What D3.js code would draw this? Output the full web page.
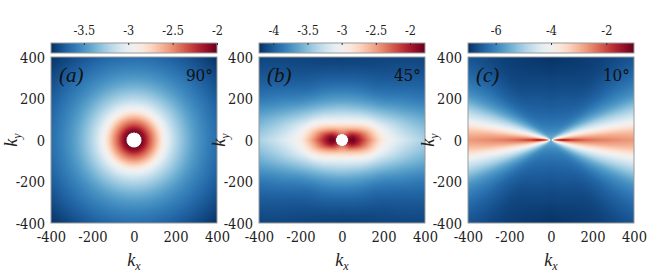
<!DOCTYPE html>
<html><head><meta charset="utf-8">
<script src="https://cdn.jsdelivr.net/npm/d3@7"></script>
<style>
body{margin:0;background:#fff;} svg{display:block}
text{font-family:"Liberation Serif",serif;}
text.num{font-family:"DejaVu Serif Condensed","DejaVu Serif",serif;font-stretch:condensed;}
</style>
</head><body>
<svg id="chart" width="650" height="275"></svg>
<script>
// ---- data ----
const axisTicks = [-400, -200, 0, 200, 400];
const panelLabels = ["(a)", "(b)", "(c)"];
const angleLabels = ["90°", "45°", "10°"];
const colorDomains = [[-3.87, -2.0], [-4.21, -1.78], [-7.0, -1.0]];
const colorTicks = [[-3.5, -3, -2.5, -2], [-4, -3.5, -3, -2.5, -2], [-6, -4, -2]];
const holeRadius = [35, 28, 0];

// log10 values sampled on polar grid (angle from k_x axis, degrees; radius |k|)
const anglesA = [0, 90];
const radiiA = [30, 50, 75, 100, 150, 200, 300, 400, 570];
const valuesA = [
  [-2.0, -2.12, -2.35, -2.55, -2.95, -3.2, -3.48, -3.65, -3.87],
  [-2.0, -2.12, -2.35, -2.55, -2.95, -3.2, -3.48, -3.65, -3.87]
];

const anglesB = [0, 15, 30, 45, 60, 75, 90];
const radiiB = [25, 50, 75, 100, 150, 200, 300, 400, 570];
const valuesB = [
  [-1.85, -1.8, -1.95, -2.15, -2.55, -2.9, -3.2, -3.38, -3.6],
  [-1.9, -1.88, -2.05, -2.28, -2.7, -3.05, -3.4, -3.6, -3.85],
  [-2.0, -2.05, -2.3, -2.55, -2.95, -3.3, -3.65, -3.85, -4.05],
  [-2.1, -2.25, -2.55, -2.8, -3.2, -3.5, -3.85, -4.0, -4.12],
  [-2.2, -2.42, -2.72, -2.98, -3.35, -3.62, -3.95, -4.08, -4.16],
  [-2.27, -2.52, -2.82, -3.07, -3.43, -3.68, -3.98, -4.12, -4.18],
  [-2.3, -2.55, -2.85, -3.1, -3.45, -3.7, -4.0, -4.14, -4.2]
];

const anglesC = [0, 5, 10, 15, 20, 30, 45, 60, 90];
const radiiC = [15, 30, 50, 100, 200, 300, 400, 570];
const valuesC = [
  [-1.3, -1.1, -1.15, -1.8, -2.35, -2.55, -2.7, -2.85],
  [-2.5, -2.3, -2.3, -2.6, -2.85, -2.95, -3.05, -3.2],
  [-3.1, -3.1, -3.2, -3.3, -3.5, -3.6, -3.7, -3.8],
  [-3.6, -3.7, -3.8, -3.95, -4.15, -4.3, -4.4, -4.5],
  [-4.0, -4.1, -4.3, -4.5, -4.7, -4.85, -4.95, -5.1],
  [-4.7, -4.9, -5.1, -5.35, -5.6, -5.75, -5.85, -6.0],
  [-5.3, -5.5, -5.7, -6.0, -6.3, -6.45, -6.5, -6.6],
  [-5.5, -5.7, -5.9, -6.2, -6.5, -6.7, -6.8, -6.85],
  [-5.6, -5.8, -6.0, -6.3, -6.6, -6.8, -6.95, -7.0]
];

const fields = [
  {angles: anglesA, radii: radiiA, values: valuesA},
  {angles: anglesB, radii: radiiB, values: valuesB},
  {angles: anglesC, radii: radiiC, values: valuesC}
];

// ---- layout ----
const panelX = [51, 259, 468];
const panelW = 166, panelY = 57, panelH = 166;
const cbY = 43, cbH = 10;

const svg = d3.select("#chart");
const colorFn = t => d3.interpolateRdBu(1 - t);

// monotone cubic (shape-preserving) interpolation between sampled values
function pchip(xs, ys, xv) {
  const n = xs.length;
  if (xv <= xs[0]) return ys[0];
  if (xv >= xs[n - 1]) return ys[n - 1];
  if (n === 2) { const f = (xv - xs[0]) / (xs[1] - xs[0]); return ys[0] * (1 - f) + ys[1] * f; }
  const h = [], d = [];
  for (let k = 0; k < n - 1; k++) { h.push(xs[k + 1] - xs[k]); d.push((ys[k + 1] - ys[k]) / h[k]); }
  const m = new Array(n);
  m[0] = d[0]; m[n - 1] = d[n - 2];
  for (let k = 1; k < n - 1; k++) {
    if (d[k - 1] * d[k] <= 0) m[k] = 0;
    else {
      const w1 = 2 * h[k] + h[k - 1], w2 = h[k] + 2 * h[k - 1];
      m[k] = (w1 + w2) / (w1 / d[k - 1] + w2 / d[k]);
    }
  }
  let j = 0; while (xv > xs[j + 1]) j++;
  const t = (xv - xs[j]) / h[j], t2 = t * t, t3 = t2 * t;
  return (2 * t3 - 3 * t2 + 1) * ys[j] + (t3 - 2 * t2 + t) * h[j] * m[j]
       + (-2 * t3 + 3 * t2) * ys[j + 1] + (t3 - t2) * h[j] * m[j + 1];
}

function lookup(field, r, theta) {
  const rowVals = field.values.map(row => pchip(field.radii, row, r));
  return pchip(field.angles, rowVals, theta);
}

fields.forEach((field, p) => {
  const x0 = panelX[p];
  const x = d3.scaleLinear().domain([-400, 400]).range([x0, x0 + panelW]);
  const y = d3.scaleLinear().domain([-400, 400]).range([panelY + panelH, panelY]);
  const color = d3.scaleSequential(colorFn).domain(colorDomains[p]);

  // heatmap raster
  const canvas = document.createElement("canvas");
  canvas.width = panelW; canvas.height = panelH;
  const ctx = canvas.getContext("2d");
  const img = ctx.createImageData(panelW, panelH);
  for (let py = 0; py < panelH; py++) {
    for (let px = 0; px < panelW; px++) {
      const kx = x.invert(x0 + px + 0.5), ky = y.invert(panelY + py + 0.5);
      const r = Math.hypot(kx, ky);
      const theta = Math.atan2(Math.abs(ky), Math.abs(kx)) * 180 / Math.PI;
      let c;
      if (r < holeRadius[p]) c = {r: 255, g: 255, b: 255};
      else c = d3.rgb(color(lookup(field, r, theta)));
      const k = (py * panelW + px) * 4;
      img.data[k] = c.r; img.data[k + 1] = c.g; img.data[k + 2] = c.b; img.data[k + 3] = 255;
    }
  }
  ctx.putImageData(img, 0, 0);
  svg.append("image").attr("x", x0).attr("y", panelY).attr("width", panelW).attr("height", panelH)
    .attr("href", canvas.toDataURL());

  if (holeRadius[p] > 0) {
    svg.append("circle").attr("cx", x(0)).attr("cy", y(0))
      .attr("r", x(holeRadius[p]) - x(0))
      .attr("fill", "#fff").attr("stroke", "#c8d4e0").attr("stroke-width", 0.8)
      .attr("stroke-dasharray", "2,1");
  }

  // frame
  svg.append("rect").attr("x", x0).attr("y", panelY).attr("width", panelW).attr("height", panelH)
    .attr("fill", "none").attr("stroke", "#999").attr("stroke-width", 1);

  // axes
  const gx = svg.append("g").attr("transform", `translate(0,${panelY + panelH})`)
    .call(d3.axisBottom(x).tickValues(axisTicks).tickSize(0).tickPadding(12).tickFormat(d3.format("d")));
  const gy = svg.append("g").attr("transform", `translate(${x0},0)`)
    .call(d3.axisLeft(y).tickValues(axisTicks).tickSize(0).tickPadding(6).tickFormat(d3.format("d")));
  [gx, gy].forEach(g => {
    g.attr("font-family", null);
    g.select(".domain").remove();
    g.selectAll("text").attr("class", "num").attr("font-size", 14.5).attr("fill", "#222")
      .text(function () { return this.textContent.replace("−", "-"); });
  });
  gx.selectAll("text").attr("dy", "0.45em");
  gy.selectAll("text").attr("dy", "0.35em");

  // x label
  const xl = svg.append("text").attr("x", x(0)).attr("y", 266).attr("text-anchor", "middle")
    .attr("font-size", 18).attr("font-style", "italic").attr("fill", "#222");
  xl.append("tspan").text("k");
  xl.append("tspan").attr("font-size", 12).attr("dy", 4).text("x");

  // y label
  const yl = svg.append("text").attr("transform", `translate(${x0 - 34},${y(0)}) rotate(-90)`)
    .attr("text-anchor", "middle")
    .attr("font-size", 18).attr("font-style", "italic").attr("fill", "#222");
  yl.append("tspan").text("k");
  yl.append("tspan").attr("font-size", 12).attr("dy", 4).text("y");

  // panel labels
  svg.append("text").attr("x", x0 + 8).attr("y", panelY + 25)
    .attr("font-size", 21).attr("font-style", "italic").attr("fill", "#111")
    .text(panelLabels[p]);
  svg.append("text").attr("class", "num").attr("x", x0 + panelW - 4).attr("y", panelY + 24).attr("text-anchor", "end")
    .attr("font-size", 17).attr("fill", "#111")
    .text(angleLabels[p]);

  // colorbar
  const cb = d3.scaleLinear().domain(colorDomains[p]).range([x0, x0 + panelW]);
  const grad = svg.append("defs").append("linearGradient").attr("id", "grad" + p)
    .attr("x1", "0%").attr("x2", "100%").attr("y1", "0%").attr("y2", "0%");
  d3.range(0, 1.0001, 0.05).forEach(t => {
    grad.append("stop").attr("offset", (t * 100) + "%").attr("stop-color", colorFn(t));
  });
  svg.append("rect").attr("x", x0).attr("y", cbY).attr("width", panelW).attr("height", cbH)
    .attr("fill", `url(#grad${p})`).attr("stroke", "#999").attr("stroke-width", 1);
  const gc = svg.append("g").attr("transform", `translate(0,${cbY})`)
    .call(d3.axisTop(cb).tickValues(colorTicks[p]).tickSize(-2).tickPadding(8).tickFormat(d => String(d)));
  gc.attr("font-family", null);
  gc.select(".domain").remove();
  gc.selectAll("line").attr("stroke", "#333");
  gc.selectAll("text").attr("class", "num").attr("font-size", 12.5).attr("fill", "#222");
});
</script>
</body></html>
